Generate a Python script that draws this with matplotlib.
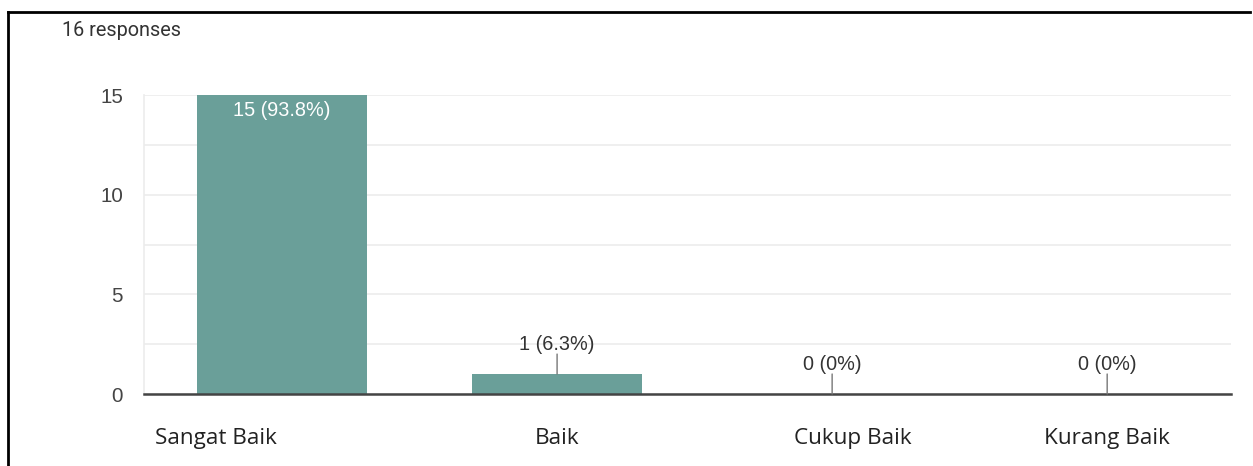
import matplotlib.pyplot as plt
from matplotlib.lines import Line2D

categories = ["Sangat Baik", "Baik", "Cukup Baik", "Kurang Baik"]
counts = [15, 1, 0, 0]
percent_labels = ["93.8%", "6.3%", "0%", "0%"]
total_responses = 16

# the category names sit a little off-center in the original screenshot
label_shift = [-0.24, 0.0, 0.076, 0.0]

bar_color = "#6a9f99"
grid_color = "#ececec"
num_font = "Liberation Sans"

fig = plt.figure(figsize=(12.53, 4.66), dpi=100)
ax = fig.add_axes([0.1149, 0.1545, 0.8675, 0.6416])

x = list(range(len(categories)))
ax.bar(x, counts, width=0.62, color=bar_color, zorder=3)

ax.set_xlim(-0.502, 3.45)
ax.set_ylim(0, 15)
ax.set_yticks([v * 2.5 for v in range(7)])
ax.set_yticklabels(["" if v % 2 else str(int(v * 2.5)) for v in range(7)],
                   fontsize=14.8, color="#444444", family=num_font)
ax.tick_params(axis="y", length=0, pad=15)
ax.set_xticks([])
ax.grid(axis="y", color=grid_color, linewidth=1.2, zorder=0)

for side in ["top", "right"]:
    ax.spines[side].set_visible(False)
ax.spines["left"].set_color(grid_color)
ax.spines["left"].set_linewidth(1.2)
ax.spines["bottom"].set_color("#444444")
ax.spines["bottom"].set_linewidth(1.8)
ax.spines["bottom"].set_zorder(4)

for i, (c, p) in enumerate(zip(counts, percent_labels)):
    txt = f"{c} ({p})"
    if c >= 10:
        ax.annotate(txt, (i, c), xytext=(0, -15), textcoords="offset pixels",
                    ha="center", va="center", color="white", fontsize=14.3,
                    family=num_font, zorder=5)
    else:
        ax.annotate("", (i, c), xytext=(0, 20), textcoords="offset pixels",
                    arrowprops=dict(arrowstyle="-", color="#777777", lw=1,
                                    shrinkA=0, shrinkB=0), zorder=5)
        ax.annotate(txt, (i, c), xytext=(0, 30), textcoords="offset pixels",
                    ha="center", va="center", color="#333333", fontsize=14.3,
                    family=num_font, zorder=5)

for i, name in enumerate(categories):
    ax.annotate(name, (i + label_shift[i], 0), xytext=(0, -44),
                textcoords="offset pixels", ha="center", va="center",
                fontsize=16.2, color="#222222", family="Open Sans",
                annotation_clip=False)

fig.text(62 / 1253, 1 - 30 / 466, f"{total_responses} responses",
         ha="left", va="center", fontsize=14.3, color="#333333", family="Roboto")

# black frame on the left and top of the screenshot
fig.add_artist(Line2D([8 / 1253, 8 / 1253], [0, 1 - 12 / 466],
                      color="black", linewidth=2, transform=fig.transFigure))
fig.add_artist(Line2D([8 / 1253, 1250 / 1253], [1 - 12 / 466, 1 - 12 / 466],
                      color="black", linewidth=2, transform=fig.transFigure))

fig.savefig("out.png", dpi=100)
